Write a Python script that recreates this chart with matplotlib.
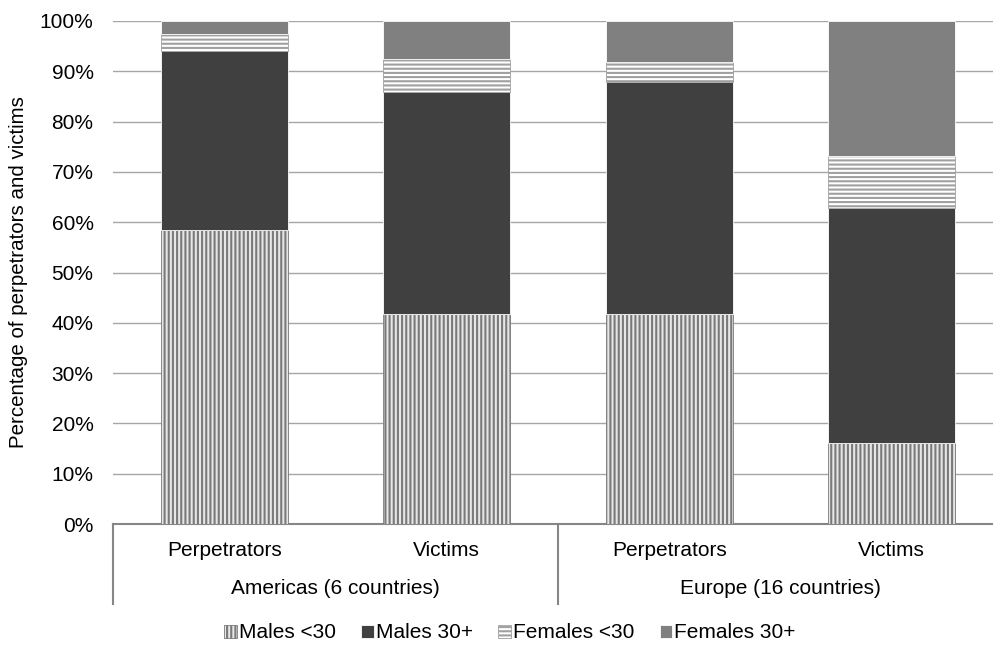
import numpy as np
import matplotlib
matplotlib.use('Agg')
import matplotlib.pyplot as plt
from matplotlib.transforms import blended_transform_factory

plt.rcParams['font.family'] = ['Liberation Sans', 'DejaVu Sans']
plt.rcParams['hatch.linewidth'] = 1.5

# data (percent of each bar)
bars = ['Perpetrators', 'Victims', 'Perpetrators', 'Victims']
groups = ['Americas (6 countries)', 'Europe (16 countries)']
males_u30 = [58.4, 41.7, 41.7, 16.1]
males_30p = [35.7, 44.2, 46.1, 46.8]
females_u30 = [3.3, 6.6, 4.0, 10.3]
females_30p = [2.6, 7.5, 8.2, 26.8]
series_names = ['Males <30', 'Males 30+', 'Females <30', 'Females 30+']

fig = plt.figure(figsize=(9.93, 6.46), dpi=100)
W, H = 993, 646
ax = fig.add_axes([113 / W, (H - 524) / H, 890 / W, 503 / H])

x = np.arange(len(bars))
width = 0.57
styles = [
    dict(facecolor='#e6e6e6', edgecolor='#7a7a7a', hatch='||||', linewidth=0.6),
    dict(facecolor='#404040', edgecolor='white', linewidth=0.6),
    dict(facecolor='white', edgecolor='#a0a0a0', hatch='----', linewidth=0.6),
    dict(facecolor='#808080', edgecolor='white', linewidth=0.6),
]
bottom = np.zeros(len(bars))
handles = []
for vals, name, st in zip([males_u30, males_30p, females_u30, females_30p], series_names, styles):
    b = ax.bar(x, vals, width, bottom=bottom, label=name, zorder=3, **st)
    handles.append(b)
    bottom += np.array(vals)

ax.set_xlim(-0.5, 3.5)
ax.set_ylim(0, 100)
ax.set_yticks(np.arange(0, 101, 10))
ax.set_yticklabels([f'{v}%' for v in range(0, 101, 10)])
ax.tick_params(axis='y', length=0, pad=14, labelsize=15)
ax.set_xticks([])
ax.grid(axis='y', color='#a6a6a6', linewidth=1.0, zorder=0)
for s in ['left', 'right', 'top']:
    ax.spines[s].set_visible(False)
ax.spines['bottom'].set_color('#868686')
ax.spines['bottom'].set_linewidth(1.5)
ax.set_ylabel('Percentage of perpetrators and victims', fontsize=14.8)
ax.yaxis.set_label_coords((28 - 113) / 890, 0.5)

# two-level category axis
trans = blended_transform_factory(ax.transData, ax.transAxes)
px = 1 / 503
for xi, lab in zip(x, bars):
    ax.text(xi, -27 * px, lab, transform=trans, ha='center', va='center', fontsize=15)
for gi, g in enumerate(groups):
    ax.text(gi * 2 + 0.5, -64 * px, g, transform=trans, ha='center', va='center', fontsize=15)
for sx in [-0.5, 1.5, 3.5]:
    ax.plot([sx, sx], [0, -80 * px], transform=trans, color='#868686', linewidth=1.5, clip_on=False)

fig.legend(handles=handles, labels=series_names, loc='center', bbox_to_anchor=(510 / W, 13 / H),
           ncol=4, frameon=False, fontsize=15, handlelength=0.6, handleheight=0.6,
           handletextpad=0.12, columnspacing=1.2)

fig.savefig('out.png', dpi=100)
